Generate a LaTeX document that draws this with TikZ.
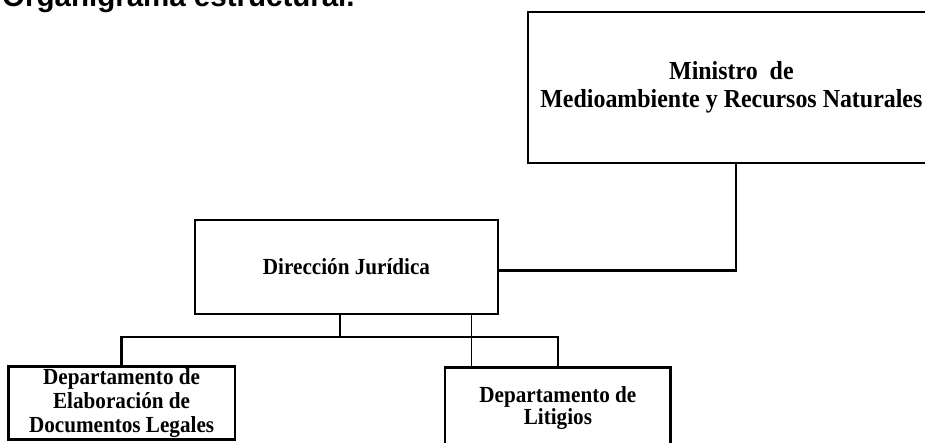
\documentclass[tikz,border=0pt]{standalone}
\usepackage{fontspec}
\setmainfont{Liberation Serif}
\newfontfamily\titlefont{Liberation Sans Bold}
\newfontfamily\boxfont[FakeStretch=0.92]{Liberation Serif Bold}
\begin{document}
\begin{tikzpicture}[x=1pt,y=-1pt,
  box/.style={draw=black, line width=2.6pt, inner sep=0pt, align=center,
    font=\boxfont\fontsize{23}{24}\selectfont},
  conn/.style={draw=black, line width=2.6pt},
  thinconn/.style={draw=black, line width=1pt}]
\useasboundingbox (0,0) rectangle (925,442);
\clip (0,0) rectangle (925,442);
% title
\node[anchor=base west, inner sep=0pt, font=\titlefont\fontsize{29.5}{34}\selectfont] (title) at (2,6.5) {Organigrama estructural.};
% boxes
\node[box, minimum width=407pt, minimum height=151pt,
  font=\boxfont\fontsize{26}{28}\selectfont] (min) at (731.4,87.4)
  {Ministro\ \ de\\Medioambiente y Recursos Naturales};
\node[box, minimum width=303pt, minimum height=94pt] (dir) at (346.5,267)
  {Dirección Jurídica};
\node[box, minimum width=226.7pt, minimum height=72.6pt] (dep1) at (121.6,403)
  {Departamento de\\Elaboración de\\Documentos Legales};
\node[box, minimum width=225.7pt, minimum height=81.4pt,
  font=\boxfont\fontsize{23}{22.5}\selectfont] (dep2) at (557.9,408)
  {Departamento de\\Litigios};
% connectors
\coordinate (elbow) at (736,270.7);
\draw[conn] (min.south -| elbow) -- (elbow) -- (dir.east |- elbow);
\coordinate (bus) at (340,337);
\draw[conn] (dir.south -| bus) -- (bus);
\draw[conn] (dep1.north) -- (dep1.north |- bus) -- (dep2.north |- bus) -- (dep2.north);
\coordinate (thin) at (471.5,300);
\draw[thinconn] (dir.south -| thin) -- (dep2.north -| thin);
\end{tikzpicture}
\end{document}
